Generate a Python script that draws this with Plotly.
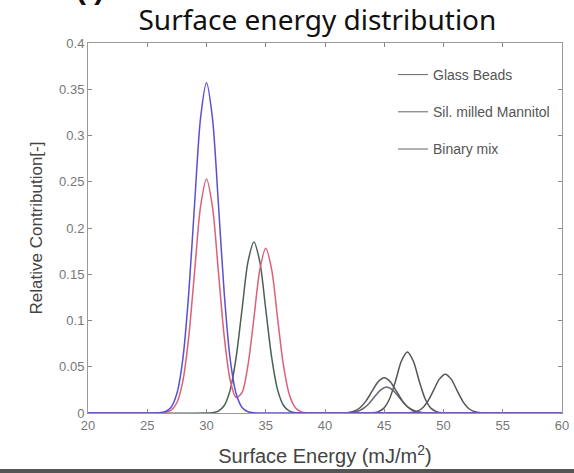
import plotly.graph_objects as go

# ---- data ----
blue_x = [20, 25.5, 26, 26.5, 27, 27.5, 28, 28.5, 29, 29.5, 30, 30.5, 31, 31.5, 32, 32.5, 33, 33.5, 34, 34.5, 60]
blue_y = [0, 0, 0.0002, 0.0014, 0.006, 0.021, 0.058, 0.129, 0.227, 0.319, 0.357, 0.319, 0.227, 0.129, 0.058, 0.021, 0.006, 0.0014, 0.0002, 0, 0]

red_x = [20, 25.5, 26, 26.5, 27, 27.5, 28, 28.5, 29, 29.5, 30, 30.5, 31, 31.5, 32, 32.5, 33, 33.5, 34, 34.5, 35, 35.5, 36, 36.5, 37, 37.5, 38, 38.5, 39, 60]
red_y = [0, 0, 0.0001, 0.0006, 0.0028, 0.0111, 0.0342, 0.0821, 0.1534, 0.2233, 0.253, 0.2233, 0.1534, 0.0823, 0.0354, 0.0167, 0.0222, 0.0517, 0.1024, 0.155, 0.178, 0.155, 0.1023, 0.0511, 0.0194, 0.0056, 0.0012, 0.0002, 0, 0]

green_x = [20, 30, 30.5, 31, 31.5, 32, 32.5, 33, 33.5, 34, 34.5, 35, 35.5, 36, 36.5, 37, 37.5, 38, 60]
green_y = [0, 0, 0.0004, 0.0021, 0.0081, 0.025, 0.0601, 0.1122, 0.1633, 0.185, 0.1633, 0.1122, 0.0601, 0.025, 0.0081, 0.0021, 0.0004, 0, 0]

pkA_x = [41.5, 42, 42.5, 43, 43.5, 44, 44.5, 45, 45.5, 46, 46.5, 47, 47.5, 48, 48.5]
pkA_y = [0.0001, 0.0006, 0.0022, 0.0062, 0.0137, 0.0241, 0.0339, 0.038, 0.0339, 0.0241, 0.0137, 0.0062, 0.0022, 0.0006, 0.0001]

pkB_x = [42.2, 42.7, 43.2, 43.7, 44.2, 44.7, 45.2, 45.7, 46.2, 46.7, 47.2, 47.7, 48.2]
pkB_y = [0.0005, 0.0016, 0.0046, 0.0101, 0.0178, 0.025, 0.028, 0.025, 0.0178, 0.0101, 0.0046, 0.0016, 0.0005]

pkC_x = [43.95, 44.45, 44.95, 45.45, 45.95, 46.45, 46.95, 47.45, 47.95, 48.45, 48.95, 49.45, 49.95]
pkC_y = [0.0002, 0.0012, 0.005, 0.0154, 0.0346, 0.0562, 0.066, 0.0562, 0.0346, 0.0154, 0.005, 0.0012, 0.0002]

pkD_x = [46.65, 47.15, 47.65, 48.15, 48.65, 49.15, 49.65, 50.15, 50.65, 51.15, 51.65, 52.15, 52.65, 53.15, 53.65]
pkD_y = [0.0001, 0.0003, 0.0013, 0.0046, 0.0121, 0.0242, 0.0366, 0.042, 0.0366, 0.0242, 0.0121, 0.0046, 0.0013, 0.0003, 0.0001]

legend_names = ["Glass Beads", "Sil. milled Mannitol", "Binary mix"]
x_ticks = [20, 25, 30, 35, 40, 45, 50, 55, 60]
y_ticks = [0, 0.05, 0.1, 0.15, 0.2, 0.25, 0.3, 0.35, 0.4]
y_tick_text = ["0", "0.05", "0.1", "0.15", "0.2", "0.25", "0.3", "0.35", "0.4"]

fig = go.Figure()

def add(x, y, color):
    fig.add_trace(go.Scatter(x=x, y=y, mode="lines", showlegend=False,
                             line=dict(color=color, width=1.5, shape="spline", smoothing=0.8),
                             hoverinfo="skip"))

add(pkD_x, pkD_y, "#555555")
add(pkC_x, pkC_y, "#555555")
add(pkB_x, pkB_y, "#666677")
add(pkA_x, pkA_y, "#5a5a5a")
add(green_x, green_y, "#4a6050")
add(red_x, red_y, "#dc607a")
add(blue_x, blue_y, "#5a50d4")

for i, name in enumerate(legend_names):
    fig.add_trace(go.Scatter(x=[None], y=[None], mode="lines", name=name,
                             legendgroup="g%d" % i,
                             line=dict(color="#666666", width=1)))

W, H = 474, 370
fig.update_layout(
    width=574, height=473,
    margin=dict(l=88, r=12, t=43, b=60, autoexpand=False),
    paper_bgcolor="white", plot_bgcolor="white",
    font=dict(family="Liberation Sans, Arial, sans-serif", color="#555555"),
    title=dict(text="Surface energy distribution", x=0.553, xanchor="center",
               y=1 - 20 / 473, yanchor="middle", yref="container",
               font=dict(family="Noto Sans, Open Sans, sans-serif", size=28, color="#111111")),
    legend=dict(x=(393 - 88) / W, y=1 - (59 - 43) / H, xanchor="left", yanchor="top",
                bgcolor="rgba(0,0,0,0)", font=dict(size=14, color="#555555"),
                tracegroupgap=16, itemwidth=30),
    showlegend=True,
)

fig.update_xaxes(range=[20, 60], tickvals=x_ticks, ticks="inside", ticklen=4,
                 tickcolor="#888888", showline=True, linecolor="#999999", linewidth=1,
                 mirror="ticks", showgrid=False, zeroline=False, automargin=False,
                 tickfont=dict(size=13, color="#777777"),
                 title=dict(text="Surface Energy (mJ/m<sup>2</sup>)", standoff=17,
                            font=dict(size=20, color="#444444")))
fig.update_yaxes(range=[0, 0.4], tickvals=y_ticks, ticktext=y_tick_text, ticks="inside",
                 ticklen=4, tickcolor="#888888", showline=True, linecolor="#999999",
                 linewidth=1, mirror="ticks", showgrid=False, zeroline=False, automargin=False,
                 tickfont=dict(size=13, color="#777777"),
                 title=dict(text="Relative Contribution[-]", standoff=12,
                            font=dict(size=17, color="#444444")))

# clipped panel label at the top-left and dark strip at the bottom
fig.add_annotation(text="<b>( )</b>", xref="paper", yref="paper", x=(90 - 88) / W,
                   y=1 + 36 / H, xanchor="center", yanchor="bottom", showarrow=False,
                   font=dict(size=30, color="#111111"))
fig.add_shape(type="rect", xref="paper", yref="paper", x0=-88 / W, x1=1 + 12 / W,
              y0=-61 / H, y1=-56 / H, fillcolor="#555555", line=dict(width=0), layer="above")

fig.write_html("out.html")
